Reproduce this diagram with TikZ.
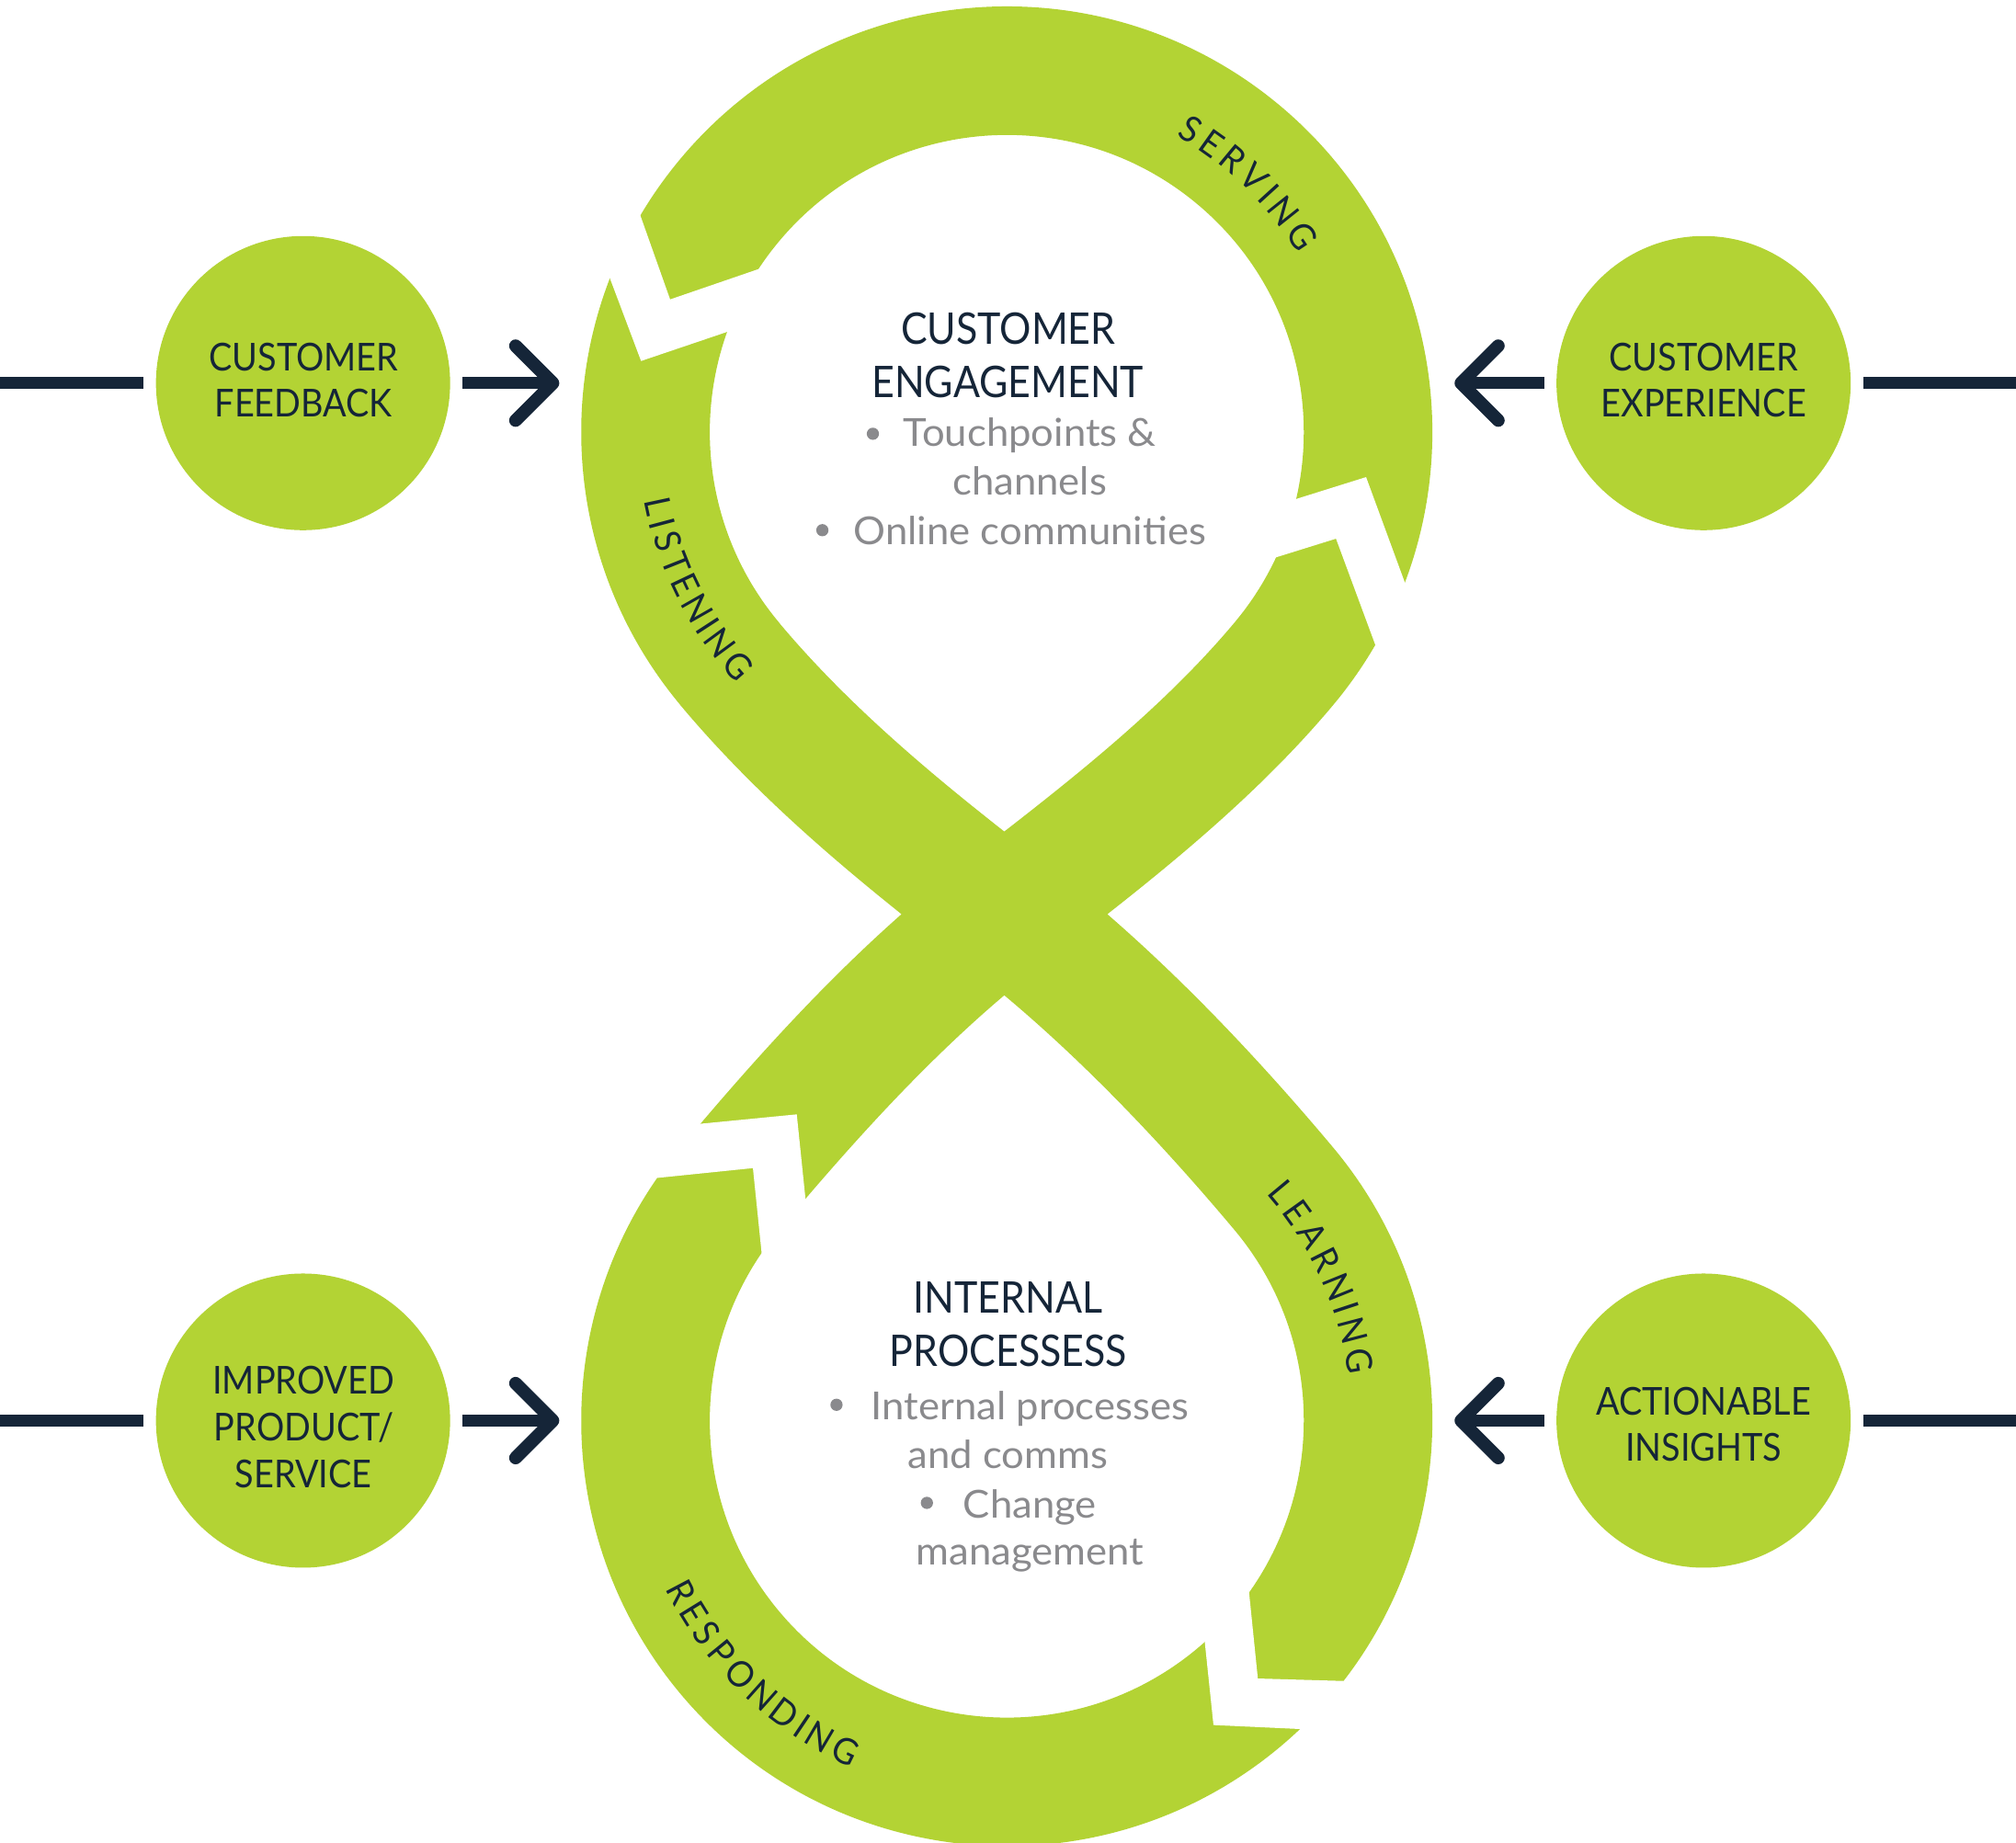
\documentclass[tikz,border=0pt]{standalone}
\usepackage{fontspec}
\setmainfont{Lato}
\newfontfamily\capfont{Lato}[FakeStretch=0.905]
\newfontfamily\bandfam{Lato}[FakeStretch=0.94]
\newfontfamily\txtfont{Lato}[FakeStretch=1.04]
\usetikzlibrary{calc}
\definecolor{lgreen}{RGB}{179,211,52}
\definecolor{navy}{RGB}{21,37,56}
\definecolor{graytxt}{RGB}{138,138,141}
\begin{document}
\begin{tikzpicture}[x=1pt,y=-1pt,
  band/.style={draw=lgreen, line width=100pt, line join=round},
  gap/.style={fill=white},
  bubble/.style={circle, fill=lgreen, minimum size=228.8pt, inner sep=0pt, outer sep=0pt},
  conn/.style={draw=navy, line width=9.5pt},
  chev/.style={draw=navy, line width=10pt, line cap=round, line join=round},
  bubtxt/.style={font={\capfont\fontsize{29.9}{36}\selectfont}, text=navy, anchor=base, inner sep=0pt},
  title/.style={font={\capfont\fontsize{33.9}{40}\selectfont}, text=navy, anchor=base, inner sep=0pt},
  item/.style={font={\txtfont\fontsize{30}{36}\selectfont}, text=graytxt, anchor=base, inner sep=0pt},
  dot/.style={circle, fill=graytxt, inner sep=0pt, minimum size=9.5pt},
  bandch/.style={font={\bandfam\fontsize{28}{34}\selectfont}, text=navy, anchor=base, inner sep=0pt}
]
\useasboundingbox (0,0) rectangle (1568,1433);
\fill[white] (0,0) rectangle (1568,1433);
\coordinate (TC) at (783,336);
\coordinate (BC) at (783,1105);
\coordinate (X) at (781,710);
% figure-eight band
\draw[band] (567.7,516.6) .. controls (629.4,590.2) and (704.9,651.5) .. (X)
  .. controls (860.3,770.9) and (934.0,847.8) .. (998.3,924.4)
  arc[start angle=-40, end angle=220, radius=281]
  .. controls (632.0,847.8) and (701.7,770.9) .. (X)
  .. controls (857.1,651.5) and (936.6,590.2) .. (998.3,516.6)
  arc[start angle=40, end angle=-220, radius=281]
  -- cycle;
% arrow gaps
\fill[gap] (487.3,137.3) -- (521.2,232.9) -- (609.2,202.7) -- (584.0,251.9) -- (498.6,280.8) -- (462.9,186.0) -- cycle;
\fill[gap] (988.1,394.4) -- (1062.5,371.1) -- (1102.6,480.2) -- (1078.4,525.2) -- (1039.1,419.0) -- (964.9,442.1) -- cycle;
\fill[gap] (523.5,876.2) -- (619.7,866.8) -- (628.9,956.0) -- (595.7,1007.0) -- (585.6,908.6) -- (495.9,917.8) -- cycle;
\fill[gap] (969.7,1221.0) -- (978.3,1305.6) -- (1070.8,1308.3) -- (1037.2,1346.1) -- (943.8,1341.8) -- (935.2,1259.6) -- cycle;
% band labels, letter by letter along the loops
\foreach \ch/\an [count=\i] in {S/-58.7, E/-54.58, R/-50.34, V/-45.83, I/-42.27, N/-38.57, G/-33.58}
  \node[bandch, rotate={-1*(\an)-90}] (sv\i) at ($(TC)+(\an:265.6)$) {\ch};
\foreach \ch/\an [count=\i] in {L/167.9, I/165.07, S/162.11, T/158.33, E/154.55, N/150.36, I/146.99, N/143.62, G/138.97}
  \node[bandch, rotate={90-(\an)}] (ls\i) at ($(TC)+(\an:287)$) {\ch};
\foreach \ch/\an [count=\i] in {L/-39.7, E/-35.72, A/-31.26, R/-26.66, N/-22.0, I/-18.29, N/-14.58, G/-9.6}
  \node[bandch, rotate={-1*(\an)-90}] (le\i) at ($(BC)+(\an:268)$) {\ch};
\foreach \ch/\an [count=\i] in {R/152.2, E/148.35, S/144.63, P/140.83, O/136.43, N/131.71, D/127.2, I/123.88, N/120.56, G/116.0}
  \node[bandch, rotate={90-(\an)}] (rs\i) at ($(BC)+(\an:296)$) {\ch};
% centre texts
\node[title] (ce1) at (784.2,267.5) {CUSTOMER};
\node[title] (ce2) at (783.8,309.0) {ENGAGEMENT};
\node[dot] (bu1) at (678.9,337.4) {};
\node[item] (ce3) at (801.0,347.3) {Touchpoints \&};
\node[item] (ce4) at (800.9,385.3) {channels};
\node[dot] (bu2) at (639.6,412.4) {};
\node[item] (ce5) at (801.0,423.3) {Online communities};
\node[title] (ip1) at (784.0,1021.2) {INTERNAL};
\node[title] (ip2) at (784.2,1062.6) {PROCESSESS};
\node[dot] (bu3) at (650.6,1092.7) {};
\node[item] (ip3) at (801.1,1104.4) {Internal processes};
\node[item] (ip4) at (784.0,1142.1) {and comms};
\node[dot] (bu4) at (720.9,1169.0) {};
\node[item] (ip5) at (801.1,1180.7) {Change};
\node[item] (ip6) at (801.3,1217.4) {management};
% side bubbles
\node[bubble] (cf) at (235.7,298) {};
\node[bubble] (cx) at (1325,298) {};
\node[bubble] (ps) at (235.7,1105) {};
\node[bubble] (ai) at (1325,1105) {};
\node[bubtxt] (cf1) at (236.1,288.4) {CUSTOMER};
\node[bubtxt] (cf2) at (236.1,324.1) {FEEDBACK};
\node[bubtxt] (cx1) at (1325.1,288.4) {CUSTOMER};
\node[bubtxt] (cx2) at (1325.1,324.1) {EXPERIENCE};
\node[bubtxt] (ps1) at (236.1,1084.4) {IMPROVED};
\node[bubtxt] (ps2) at (236.4,1120.6) {PRODUCT/};
\node[bubtxt] (ps3) at (236.1,1157.1) {SERVICE};
\node[bubtxt] (ai1) at (1325,1100.7) {ACTIONABLE};
\node[bubtxt] (ai2) at (1325,1136.7) {INSIGHTS};
% connectors
\coordinate (e1) at (0,298);
\coordinate (e2) at (1568,298);
\coordinate (e3) at (0,1105);
\coordinate (e4) at (1568,1105);
\coordinate (a1) at (430,298);
\coordinate (a2) at (1136.3,298);
\coordinate (a3) at (430,1105);
\coordinate (a4) at (1136.3,1105);
\draw[conn] (e1) -- ([xshift=-9.5pt]cf.west);
\draw[conn] ([xshift=9.6pt]cf.east) -- (a1);
\draw[chev] ($(a1)+(-29,-29)$) -- (a1) -- ($(a1)+(-29,29)$);
\draw[conn] ([xshift=10pt]cx.east) -- (e2);
\draw[conn] ([xshift=-9.5pt]cx.west) -- (a2);
\draw[chev] ($(a2)+(29,-29)$) -- (a2) -- ($(a2)+(29,29)$);
\draw[conn] (e3) -- ([xshift=-9.5pt]ps.west);
\draw[conn] ([xshift=9.6pt]ps.east) -- (a3);
\draw[chev] ($(a3)+(-29,-29)$) -- (a3) -- ($(a3)+(-29,29)$);
\draw[conn] ([xshift=10pt]ai.east) -- (e4);
\draw[conn] ([xshift=-9.5pt]ai.west) -- (a4);
\draw[chev] ($(a4)+(29,-29)$) -- (a4) -- ($(a4)+(29,29)$);
\end{tikzpicture}
\end{document}
